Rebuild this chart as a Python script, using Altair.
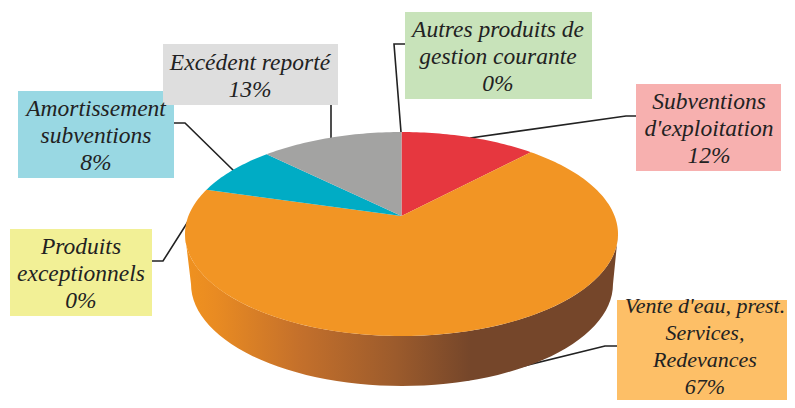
import math
import altair as alt
import pandas as pd

# ---- data ----
names = ["Subventions d'exploitation", "Vente d'eau, prest. Services, Redevances",
         "Produits exceptionnels", "Amortissement subventions", "Excédent reporté",
         "Autres produits de gestion courante"]
shares = [12.01, 67.49, 0, 7.9, 12.6, 0]
slice_colors = ["#E6373F", "#F29524", "#F2F096", "#00ACC5", "#A3A3A2", "#C8E3BA"]

label_lines = ["Subventions\nd'exploitation\n12%",
               "Vente d'eau, prest.\nServices,\nRedevances\n67%",
               "Produits\nexceptionnels\n0%",
               "Amortissement\nsubventions\n8%",
               "Excédent reporté\n13%",
               "Autres produits de\ngestion courante\n0%"]
box_colors = ["#F7B0AF", "#FDBF67", "#F2F096", "#99D8E3", "#DEDEDE", "#C8E3BA"]
box_x0 = [636, 617, 10, 18, 163, 405]
box_x1 = [781, 795, 152, 174, 338, 592]
box_y0 = [84, 300, 229, 91, 44, 12]
box_y1 = [171, 408, 316, 178, 105, 99]
text_x = [709, 705, 81, 96, 250, 498]
text_size = [23.5, 22, 23.5, 23.5, 23.5, 23.5]
leaders = [
    [(636, 116), (626, 116), (470, 138)],
    [(617, 346), (605, 346), (467, 380)],
    [(152, 261), (163, 261), (208, 190)],
    [(174, 123), (185, 123), (234, 171)],
    [(331, 105), (331, 139)],
    [(405, 44), (394, 44), (401, 132)],
]

# ---- geometry of the tilted pie ----
M = 8
CX, CY, RX, RY = 401.5, 234, 216.5, 102
BX, BY, BRX, BRY = 402, 284, 211, 102
TILT = 18 / 102


def rim(frac):
    th = 2 * math.pi * frac
    u, v = math.sin(th), math.cos(th)
    d = 1 + TILT * v
    return (CX + RX * u * math.sqrt(1 - TILT**2) / d, CY - RY * (v + TILT) / d)


apex = (CX, CY - RY * TILT)
features = []
acc = 0
for name, share, col in zip(names, shares, slice_colors):
    if share > 0:
        steps = max(2, int(share * 3))
        ring = [apex] + [rim((acc + share * i / steps) / sum(shares)) for i in range(steps + 1)] + [apex]
        features.append({"type": "Feature", "properties": {"name": name, "color": col},
                         "geometry": {"type": "Polygon", "coordinates": [[list(p) for p in ring]]}})
    acc += share

wall = []
for i in range(61):
    a = math.pi * i / 60
    wall.append([CX - RX * math.cos(a), CY + RY * math.sin(a)])
for i in range(61):
    a = math.pi * i / 60
    wall.append([BX + BRX * math.cos(a), BY + BRY * math.sin(a)])
wall.append(wall[0])
wall_feature = [{"type": "Feature", "properties": {"name": "wall"},
                 "geometry": {"type": "Polygon", "coordinates": [wall]}}]

proj = dict(type="identity", scale=1, translate=[-M, -M])
wall_fill = alt.LinearGradient(
    gradient="linear", x1=0, x2=1, y1=0, y2=0,
    stops=[alt.GradientStop(offset=0.0, color="#F0921F"),
           alt.GradientStop(offset=0.07, color="#E98B22"),
           alt.GradientStop(offset=0.265, color="#C4702B"),
           alt.GradientStop(offset=0.485, color="#9C5B2C"),
           alt.GradientStop(offset=0.66, color="#75462A"),
           alt.GradientStop(offset=1.0, color="#75462A")])

wall_layer = alt.Chart(alt.Data(values=wall_feature)).mark_geoshape(
    fill=wall_fill, strokeWidth=0).project(**proj)
top_layer = alt.Chart(alt.Data(values=features)).mark_geoshape(strokeWidth=0).encode(
    fill=alt.Fill("properties.color:N", scale=None)).project(**proj)

line_rows = [{"id": i, "o": j, "x": x - M, "y": y - M}
             for i, pts in enumerate(leaders) for j, (x, y) in enumerate(pts)]
lines = alt.Chart(pd.DataFrame(line_rows)).mark_line(color="#222222", strokeWidth=1.6).encode(
    x=alt.X("x:Q", scale=None), y=alt.Y("y:Q", scale=None),
    detail="id:N", order="o:Q")

boxes_df = pd.DataFrame({
    "x": [v - M for v in box_x0], "x2": [v - M for v in box_x1],
    "y": [v - M for v in box_y0], "y2": [v - M for v in box_y1],
    "c": box_colors, "t": label_lines,
    "o": [0, 1, 2, 3, 5, 4],
    "xm": [v - M for v in text_x],
    "fs": text_size,
})
boxes_df["n"] = boxes_df.t.str.count("\n") + 1
boxes_df["ym"] = (boxes_df.y + boxes_df.y2) / 2 - (boxes_df.n - 1) * 13.5 + 1.5
# the clipped bottom box: keep its four lines inside the page
boxes_df.loc[boxes_df.n == 4, "ym"] -= 9.5
boxes_df = boxes_df.sort_values("o")

rects = alt.Chart(boxes_df).mark_rect().encode(
    x=alt.X("x:Q", scale=None), x2="x2:Q",
    y=alt.Y("y:Q", scale=None), y2="y2:Q",
    fill=alt.Fill("c:N", scale=None), order="o:Q")
texts = alt.Chart(boxes_df).mark_text(
    font="Liberation Serif", fontStyle="italic", color="#222222",
    align="center", baseline="middle", lineBreak="\n", lineHeight=27).encode(
    x=alt.X("xm:Q", scale=None), y=alt.Y("ym:Q", scale=None), text="t:N",
    size=alt.Size("fs:Q", scale=None))

chart = alt.layer(lines, wall_layer, top_layer, rects, texts).properties(
    width=779, height=392, padding=0, autosize=alt.AutoSizeParams(type="none"),
    background="white").configure_view(stroke=None)
chart.save("out.html", embed_options={"renderer": "svg", "actions": False})
